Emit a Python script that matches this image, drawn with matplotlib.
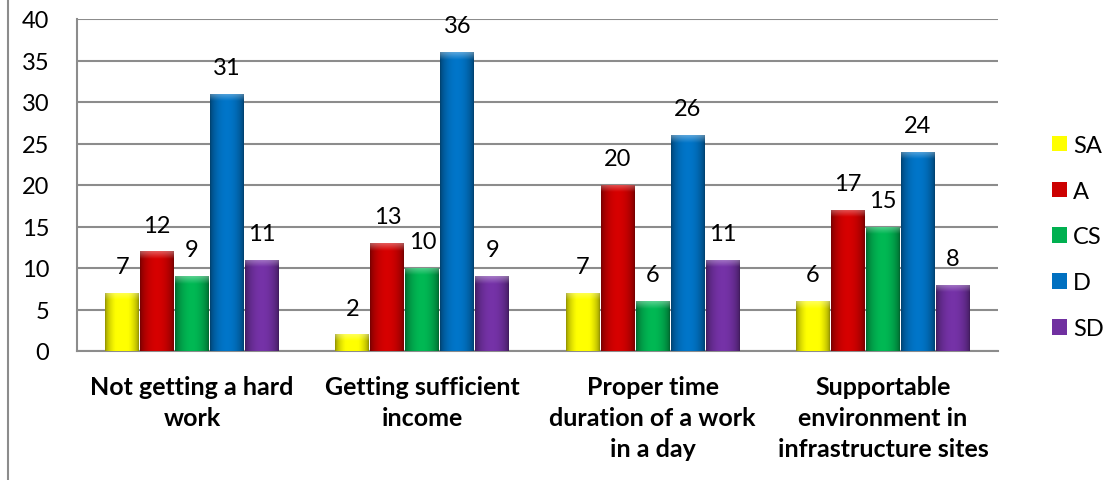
import numpy as np
import matplotlib
matplotlib.use("Agg")
import matplotlib.pyplot as plt
from matplotlib.colors import to_rgb
from matplotlib.lines import Line2D
from matplotlib.patches import Patch

categories = ["Not getting a hard\nwork", "Getting sufficient\nincome",
              "Proper time\nduration of a work\nin a day",
              "Supportable\nenvironment in\ninfrastructure sites"]
series = ["SA", "A", "CS", "D", "SD"]
sa = [7, 2, 7, 6]
a = [12, 13, 20, 17]
cs = [9, 10, 6, 15]
d = [31, 36, 26, 24]
sd = [11, 9, 11, 8]
values = [sa, a, cs, d, sd]
colors = ["#FFFF00", "#CC0000", "#00B050", "#0070C0", "#7030A0"]

plt.rcParams['font.family'] = ['Lato', 'DejaVu Sans']


def shade_bar(ax, bar, color):
    # fake the excel bevel: dark sides, lighter top cap
    x0, y0 = bar.get_x(), bar.get_y()
    w, h = bar.get_width(), bar.get_height()
    t = np.linspace(0, 1, 80)
    prof = 0.55 + 0.5 * np.sin(np.pi * t) ** 0.6
    rgb = np.array(to_rgb(color))
    body = np.clip(rgb[None, :] * prof[:, None], 0, 1)
    img = np.tile(body[None, :, :], (2, 1, 1))
    im = ax.imshow(img, extent=(x0, x0 + w, y0, y0 + h), aspect='auto',
                   zorder=3, interpolation='bilinear')
    im.set_clip_path(bar)
    cap_h = min(0.9, h * 0.4)
    s = np.linspace(0, 1, 20)[:, None, None]
    cap = body[None, :, :] * (1 - 0.35 * s) + 0.35 * s
    im2 = ax.imshow(np.clip(cap, 0, 1), extent=(x0, x0 + w, y0 + h - cap_h, y0 + h),
                    aspect='auto', origin='lower', zorder=3.1, interpolation='bilinear')
    im2.set_clip_path(bar)


fig = plt.figure(figsize=(11.05, 4.81), dpi=100)
ax = fig.add_axes([77 / 1105, 129 / 481, 921 / 1105, 332 / 481])

n = len(series)
bw = 0.152
xs = np.arange(len(categories))
for j, (name, vals, col) in enumerate(zip(series, values, colors)):
    pos = xs + (j - (n - 1) / 2) * bw
    bars = ax.bar(pos, vals, width=bw * 0.97, color=col, zorder=2, label=name)
    for b, v in zip(bars, vals):
        shade_bar(ax, b, col)
        ax.annotate(f"{v}", (b.get_x() + b.get_width() / 2, v), xytext=(0, 19),
                    textcoords='offset points', ha='center', va='center',
                    fontsize=17, color='black', zorder=5)

ax.set_xlim(-0.5, len(categories) - 0.5)
ax.set_ylim(0, 40)
ax.set_yticks(range(0, 41, 5))
ax.set_xticks(xs)
ax.set_xticklabels(categories, fontsize=18, fontweight='bold', linespacing=1.42)
ax.tick_params(axis='x', length=0, pad=17)
ax.tick_params(axis='y', length=0, pad=20, labelsize=17)
ax.set_axisbelow(True)
ax.yaxis.grid(True, color='#8c8c8c', linewidth=1.5)
for side in ['top', 'right']:
    ax.spines[side].set_visible(False)
for side in ['left', 'bottom']:
    ax.spines[side].set_color('#8c8c8c')
    ax.spines[side].set_linewidth(1.5)

handles = [Patch(facecolor=c, edgecolor='none') for c in colors]
fig.legend(handles, series, loc='center left', bbox_to_anchor=(1040 / 1105, 1 - 238 / 481),
           frameon=False, fontsize=17, borderpad=0, handlelength=0.64, handleheight=0.64,
           handletextpad=0.25, labelspacing=1.05)

fig.add_artist(Line2D([8 / 1105, 8 / 1105], [0, 1], transform=fig.transFigure,
                      color='#8c8c8c', linewidth=1.5))

fig.savefig("out.png", dpi=100)
